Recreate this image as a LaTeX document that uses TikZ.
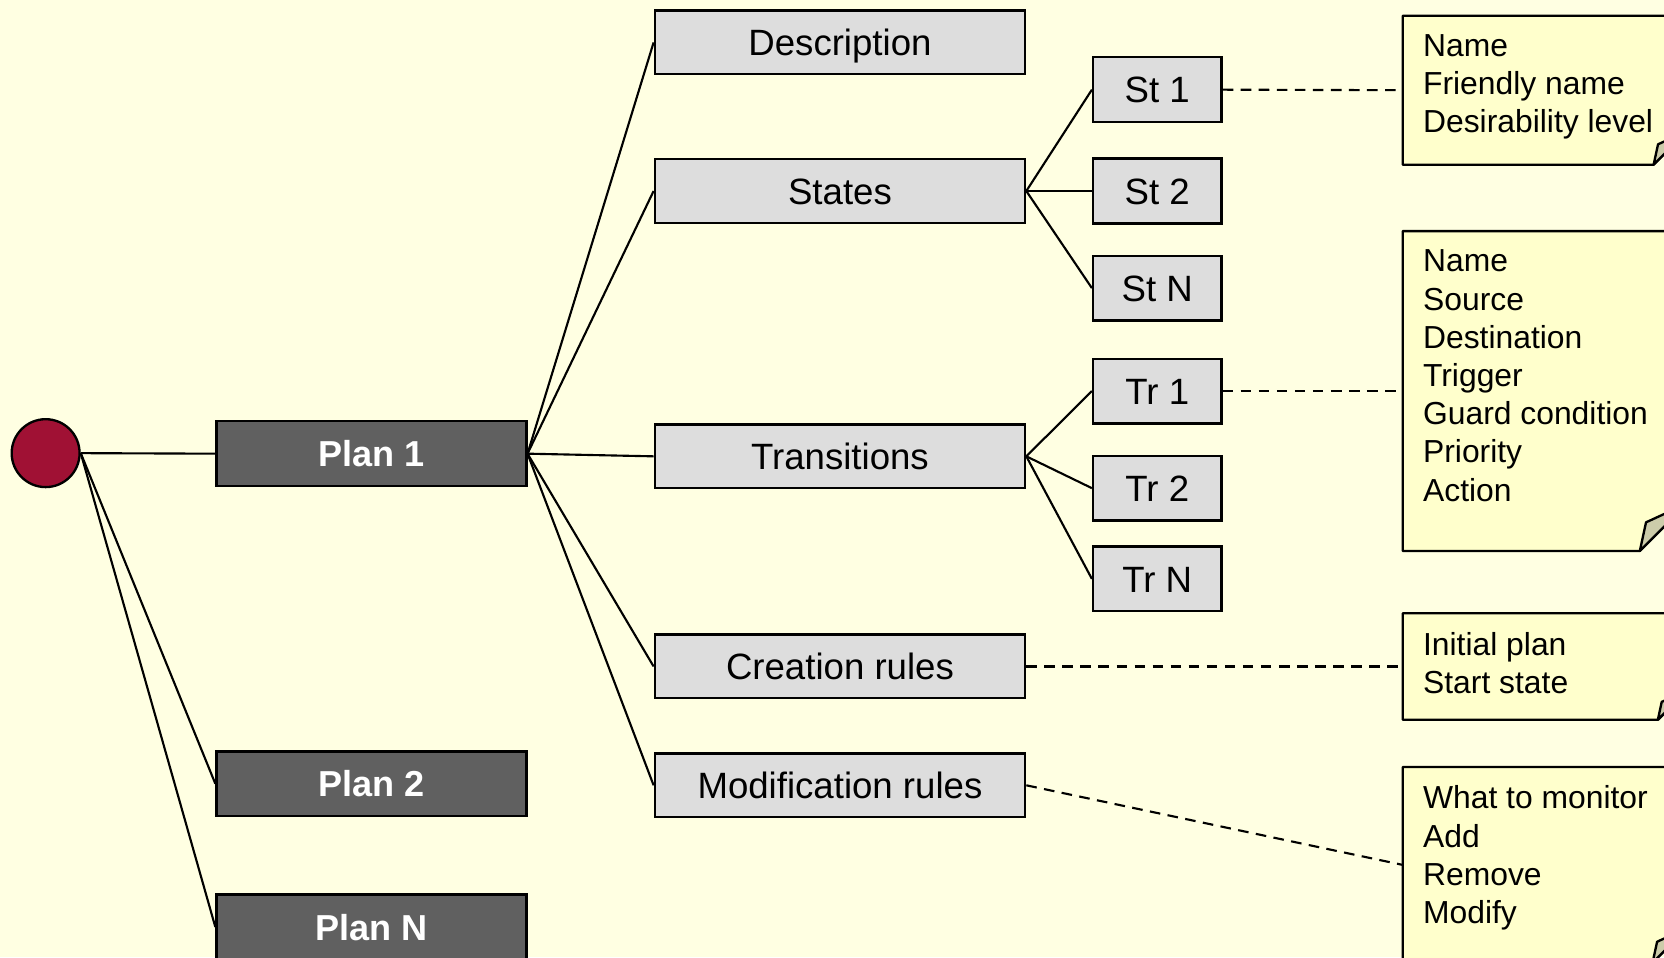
\documentclass[tikz,border=0pt]{standalone}
\usepackage{fontspec}
\setmainfont{Liberation Sans}
\definecolor{bgcol}{RGB}{255,255,226}
\definecolor{notefill}{RGB}{255,255,204}
\definecolor{flapfill}{RGB}{204,204,170}
\definecolor{plangrey}{RGB}{96,96,96}
\definecolor{partgrey}{RGB}{221,221,221}
\definecolor{rootred}{RGB}{160,17,52}

% sticky note with a folded bottom-right corner:
% name, top, bottom, fold size, text lines
\newcommand{\stickynote}[5]{%
  \pgfmathsetmacro{\nh}{#3-#2}%
  \pgfmathsetmacro{\ny}{(#2+#3)/2}%
  \pgfmathsetmacro{\fa}{-#4}%
  \pgfmathsetmacro{\fb}{-0.87*#4}%
  \pgfmathsetmacro{\fc}{0.6*#4}%
  \node[inner sep=0pt, minimum width=268pt, minimum height=\nh pt] (#1) at (1456,\ny) {};
  \filldraw[fill=notefill, line width=2.2pt, line join=round]
    (#1.north west) -- (#1.north east) -- ([yshift=#4pt]#1.south east)
    -- ([xshift=\fa pt]#1.south east) -- (#1.south west) -- cycle;
  \filldraw[fill=flapfill, line width=2.2pt, line join=round]
    ([xshift=\fa pt]#1.south east) -- ([xshift=\fb pt, yshift=\fc pt]#1.south east)
    -- ([yshift=#4pt]#1.south east) -- cycle;
  \node[notetext] (#1-text) at ([xshift=19pt, yshift=-17.5pt]#1.north west) {#5};
}

\begin{document}
\begin{tikzpicture}[x=1pt, y=-1pt,
  box/.style={draw=black, line width=2.2pt, inner sep=0pt,
    text height=24.7pt, text depth=0pt, font=\fontsize{34.5}{40}\selectfont},
  plan/.style={box, fill=plangrey, minimum width=292pt, minimum height=61pt,
    text=white, font=\fontsize{34}{40}\selectfont\bfseries},
  part/.style={box, fill=partgrey, minimum width=349pt, minimum height=60pt},
  item/.style={box, fill=partgrey, minimum width=121pt, minimum height=61pt},
  link/.style={line width=2pt},
  dlink/.style={line width=2pt, dash pattern=on 10pt off 7pt},
  notetext/.style={anchor=north west, inner sep=0pt, align=left,
    font=\fontsize{30}{36}\selectfont},
]
\useasboundingbox (0,0) rectangle (1568,902);
\fill[bgcol] (0,0) rectangle (1568,902);

% root and plans
\node[circle, draw=black, line width=2.2pt, fill=rootred, minimum size=64pt, inner sep=0pt] (root) at (43,427) {};
\node[plan] (plan1) at (350,427.5) {Plan 1};
\node[plan] (plan2) at (350,738.5) {Plan 2};
\node[plan] (planN) at (350,873.5) {Plan N};

% parts of a plan
\node[part] (desc)  at (791.5,40)  {Description};
\node[part] (states) at (791.5,180) {States};
\node[part] (trans) at (791.5,430) {Transitions};
\node[part] (create) at (791.5,628) {Creation rules};
\node[part] (modify) at (791.5,740) {Modification rules};

% states and transitions
\node[item] (st1) at (1090.5,84.5)  {St 1};
\node[item] (st2) at (1090.5,180)   {St 2};
\node[item] (stN) at (1090.5,271.5) {St N};
\node[item] (tr1) at (1090.5,368.5) {Tr 1};
\node[item] (tr2) at (1090.5,460)   {Tr 2};
\node[item] (trN) at (1090.5,545.5) {Tr N};

% notes
\stickynote{n1}{15}{155}{32}{Name\\Friendly name\\Desirability level}
\stickynote{n2}{218}{519}{45}{Name\\Source\\Destination\\Trigger\\Guard condition\\Priority\\Action}
\stickynote{n3}{578}{678}{28}{Initial plan\\Start state}
\stickynote{n4}{723}{907}{33}{What to monitor\\Add\\Remove\\Modify}

% tree connectors
\draw[link] (root.east) -- (plan1.west);
\draw[link] (root.east) -- (plan2.west);
\draw[link] (root.east) -- (planN.west);
\foreach \p in {desc,states,trans,create,modify}
  \draw[link] (plan1.east) -- (\p.west);
\foreach \s in {st1,st2,stN}
  \draw[link] (states.east) -- (\s.west);
\foreach \t in {tr1,tr2,trN}
  \draw[link] (trans.east) -- (\t.west);

% note attachments
\draw[dlink] (st1.east) -- (n1.west);
\draw[dlink] (tr1.east) -- (n2.west);
\draw[dlink] (create.east) -- (n3.west);
\draw[dlink] (modify.east) -- (n4.west);
\end{tikzpicture}
\end{document}
